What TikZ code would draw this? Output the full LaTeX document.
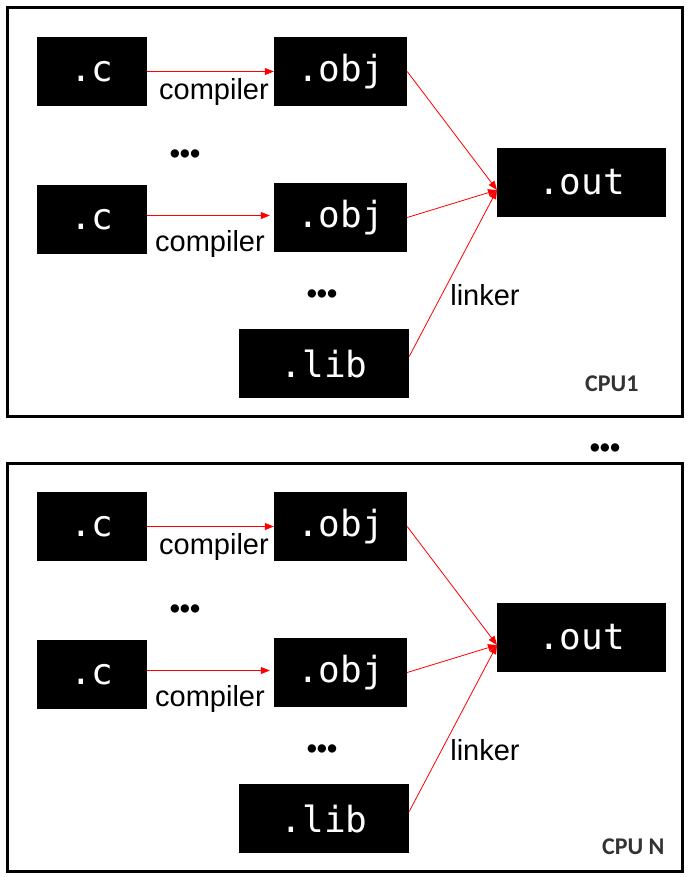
\documentclass[tikz,border=0pt]{standalone}
\usepackage{fontspec}
\setmainfont{Liberation Sans}
\newfontfamily\monofont{DejaVu Sans Mono}
\newfontfamily\cpufont{Carlito}
\usetikzlibrary{arrows.meta}

\tikzset{
  filebox/.style={fill=black,text=white,inner sep=0pt,minimum height=69pt,
    font=\monofont\fontsize{36}{40}\selectfont},
  redarrow/.style={draw=red,line width=0.8pt,-{Triangle[length=9pt,width=7pt]}},
  tool/.style={font=\fontsize{29}{32}\selectfont},
  dots/.style={font=\bfseries\fontsize{29}{32}\selectfont}
}

\begin{document}
\begin{tikzpicture}[x=1pt,y=-1pt]
  \useasboundingbox (0,0) rectangle (689,877);
  \foreach \dy/\p/\cpu/\cx/\cy in {0/a/CPU1/642/384, 455/b/CPU N/668/847} {
    % frame of one cpu
    \draw[line width=3pt] (7,8+\dy) rectangle (682,416+\dy);
    \node[filebox,minimum width=110pt] (c1\p) at (92,71.5+\dy) {.c};
    \node[filebox,minimum width=133pt] (obj1\p) at (340.5,71.5+\dy) {.obj};
    \node[filebox,minimum width=169pt] (out\p) at (581.5,182.5+\dy) {.out};
    \node[filebox,minimum width=110pt] (c2\p) at (92,219.5+\dy) {.c};
    \node[filebox,minimum width=133pt] (obj2\p) at (340.5,217.5+\dy) {.obj};
    \node[filebox,minimum width=170pt] (lib\p) at (324,363.5+\dy) {.lib};
    \coordinate (in\p) at (497,190+\dy);
    % compile and link
    \draw[redarrow] (c1\p.east) -- (obj1\p.west);
    \draw[redarrow] ([yshift=4pt]c2\p.east) -- ([xshift=-4pt,yshift=2pt]obj2\p.west);
    \draw[redarrow] (obj1\p.east) -- (in\p);
    \draw[redarrow] (obj2\p.east) -- (in\p);
    \draw[redarrow] ([yshift=7pt]lib\p.east) -- (in\p);
    \node[tool] (comp1\p) at (214,92+\dy) {compiler};
    \node[tool] (comp2\p) at (210,244+\dy) {compiler};
    \node[tool] (link\p) at (485,295+\dy) {linker};
    \node[dots] (dots1\p) at (185,157+\dy) {•••};
    \node[dots] (dots2\p) at (322,297+\dy) {•••};
    \node[anchor=east,text=black!80,font=\cpufont\bfseries\fontsize{24}{28}\selectfont]
      (cpu\p) at (\cx,\cy) {\cpu};
  }
  \node[dots] (dotscpu) at (605,451) {•••};
\end{tikzpicture}
\end{document}
